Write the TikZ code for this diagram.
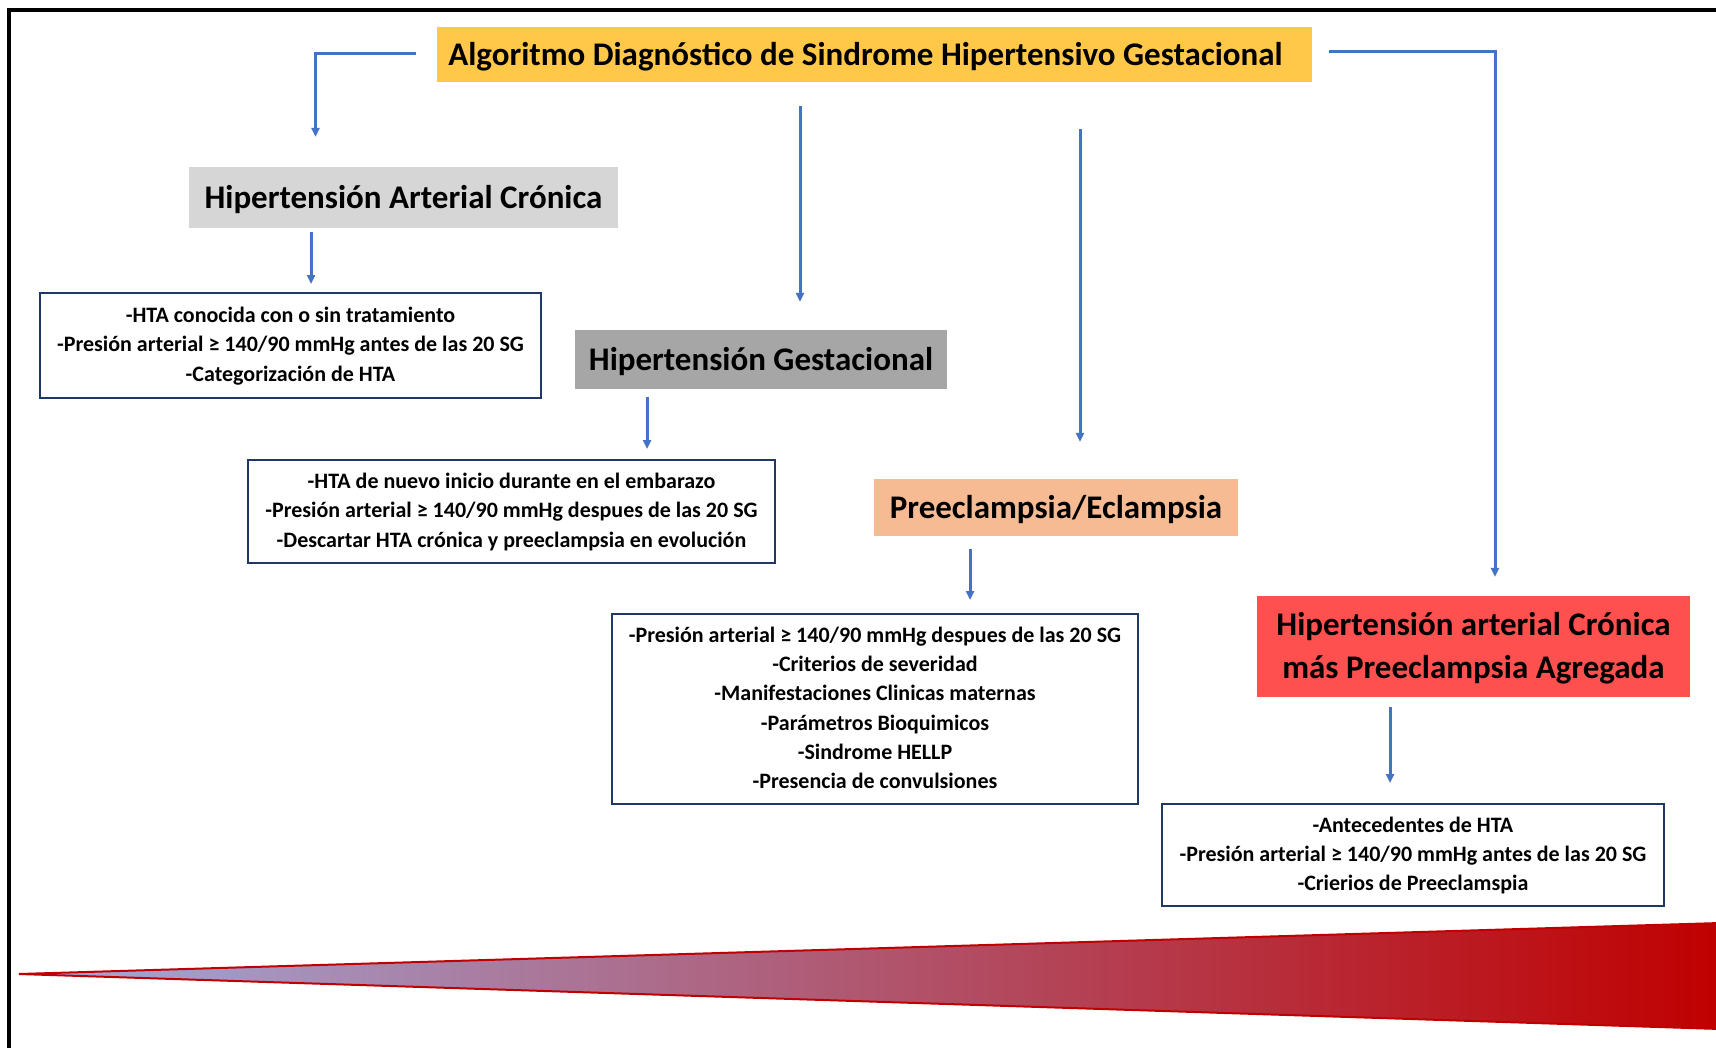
\documentclass[tikz,border=0pt]{standalone}
\usepackage{fontspec}
\setmainfont{Carlito}
\usetikzlibrary{arrows.meta,calc}

\definecolor{titlegold}{RGB}{255,200,72}
\definecolor{lightgrey}{RGB}{214,214,214}
\definecolor{midgrey}{RGB}{166,166,166}
\definecolor{peach}{RGB}{246,187,146}
\definecolor{alertred}{RGB}{255,80,80}
\definecolor{linkblue}{RGB}{68,114,196}
\definecolor{navy}{RGB}{32,56,100}
\definecolor{wedgestart}{RGB}{160,172,222}
\definecolor{wedgeend}{RGB}{192,0,0}

\begin{document}
\begin{tikzpicture}[x=1pt,y=-1pt,
  head/.style={font=\bfseries\fontsize{33}{43}\selectfont, inner sep=0pt, align=center,
               text=black, text depth=1.5pt},
  info/.style={draw=navy, line width=2pt, fill=white, font=\bfseries\fontsize{22}{29.3}\selectfont,
               inner sep=0pt, align=center, text=black, text depth=2.5pt},
  conn/.style={draw=linkblue, line width=3pt, -{Triangle[length=9pt,width=8pt]}}]

% page and outer frame
\fill[white] (0,0) rectangle (1716,1047);
\useasboundingbox (0,0) rectangle (1716,1047);
\draw[black, line width=3.5pt] (9,1060) -- (9,10) -- (1730,10);

% headings
\node[head, fill=titlegold, minimum width=875pt, minimum height=55pt] (title) at (874.5,54.5)
  {\hspace*{-18pt}Algoritmo Diagnóstico de Sindrome Hipertensivo Gestacional};
\node[head, fill=lightgrey, minimum width=429pt, minimum height=61pt] (hac) at (403.5,197.5)
  {Hipertensión Arterial Crónica};
\node[head, fill=midgrey, minimum width=372pt, minimum height=59pt] (hg) at (761,359.5)
  {Hipertensión Gestacional};
\node[head, fill=peach, minimum width=364pt, minimum height=57pt] (pe) at (1056,507.5)
  {Preeclampsia/Eclampsia};
\node[head, fill=alertred, minimum width=433pt, minimum height=101pt] (hpe) at (1473.5,646.5)
  {Hipertensión arterial Crónica\\más Preeclampsia Agregada};

% criteria boxes
\node[info, minimum width=501pt, minimum height=105pt] (c1) at (290.5,345.5)
  {-HTA conocida con o sin tratamiento\\
   -Presión arterial ≥ 140/90 mmHg antes de las 20 SG\\
   -Categorización de HTA};
\node[info, minimum width=527pt, minimum height=103pt] (c2) at (511.5,511.5)
  {-HTA de nuevo inicio durante en el embarazo\\
   -Presión arterial ≥ 140/90 mmHg despues de las 20 SG\\
   -Descartar HTA crónica y preeclampsia en evolución};
\node[info, minimum width=526pt, minimum height=190pt] (c3) at (875,709)
  {-Presión arterial ≥ 140/90 mmHg despues de las 20 SG\\
   -Criterios de severidad\\
   -Manifestaciones Clinicas maternas\\
   -Parámetros Bioquimicos\\
   -Sindrome HELLP\\
   -Presencia de convulsiones};
\node[info, minimum width=502pt, minimum height=102pt] (c4) at (1413,855)
  {-Antecedentes de HTA\\
   -Presión arterial ≥ 140/90 mmHg antes de las 20 SG\\
   -Crierios de Preeclamspia};

% connectors from the title
\draw[conn] ($(title.west)+(-21,-1)$) -| ($(hac.north)+(-88,-30)$);
\draw[conn] ($(title.south)+(-74.5,24)$) -- ($(hg.north)+(39,-28)$);
\draw[conn] ($(title.south)+(205.5,47)$) -- ($(pe.north)+(24,-37)$);
\draw[conn] ($(title.east)+(17,-3)$) -| ($(hpe.north)+(21.5,-19)$);

% connectors to the criteria
\draw[conn] ($(hac.south)+(-92.5,4)$) -- ($(c1.north)+(20.5,-8)$);
\draw[conn] ($(hg.south)+(-114,8)$) -- ($(c2.north)+(135.5,-10)$);
\draw[conn] ($(pe.south)+(-86,13)$) -- ($(c3.north)+(95,-13)$);
\draw[conn] ($(hpe.south)+(-83.5,10)$) -- ($(c4.north)+(-23,-20)$);

% severity wedge
\shade[left color=wedgestart, right color=wedgeend]
  (19,974) -- (1720,923) -- (1720,1029) -- cycle;
\draw[wedgeend, line width=2pt] (19,974) -- (1720,923) -- (1720,1029) -- cycle;
\end{tikzpicture}
\end{document}
